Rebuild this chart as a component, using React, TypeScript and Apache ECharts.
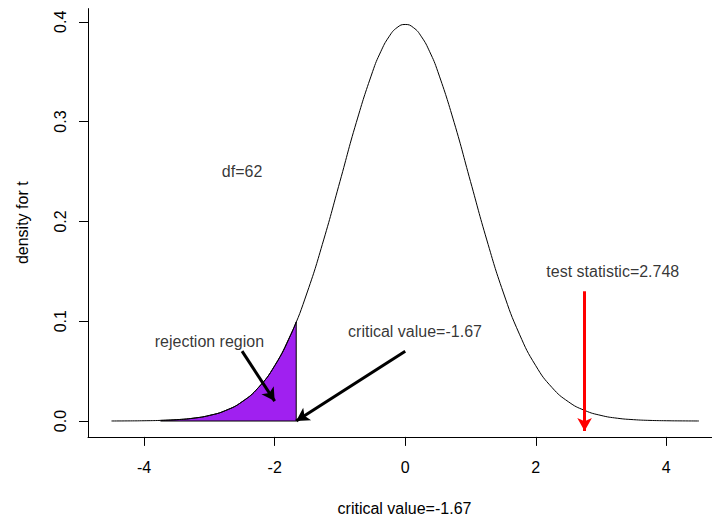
import React, { useEffect, useRef } from "react";
import * as echarts from "echarts";

// t density (df = 62)
const curveX = [-4.5, -4.25, -4, -3.75, -3.5, -3.25, -3, -2.75, -2.5, -2.25, -2, -1.75, -1.5, -1.25, -1, -0.75, -0.5, -0.375, -0.25, -0.125, 0,
  0.125, 0.25, 0.375, 0.5, 0.75, 1, 1.25, 1.5, 1.75, 2, 2.25, 2.5, 2.75, 3, 3.25, 3.5, 3.75, 4, 4.25, 4.5];
const curveY = [0.00005, 0.00013, 0.00029, 0.00063, 0.00136, 0.0028, 0.0056, 0.0106, 0.0193, 0.0335, 0.0554, 0.087, 0.1293, 0.1814, 0.24, 0.299, 0.35, 0.37, 0.3849, 0.3942, 0.3973,
  0.3942, 0.3849, 0.37, 0.35, 0.299, 0.24, 0.1814, 0.1293, 0.087, 0.0554, 0.0335, 0.0193, 0.0106, 0.0056, 0.0028, 0.00136, 0.00063, 0.00029, 0.00013, 0.00005];

// rejection region (left tail up to the critical value)
const regionX = [-3.75, -3.5, -3.25, -3, -2.75, -2.5, -2.25, -2, -1.75, -1.67];
const regionY = [0.00063, 0.00136, 0.0028, 0.0056, 0.0106, 0.0193, 0.0335, 0.0554, 0.087, 0.0994];
const criticalValue = -1.67;
const testStatistic = 2.748;

// annotations
const noteText = ["df=62", "rejection region", "critical value=-1.67", "test statistic=2.748"];
const noteX = [-2.5, -3, 0.15, 3.18];
const noteY = [0.25, 0.08, 0.09, 0.15];

// arrows: [x0, y0, x1, y1]
const blackArrows = [
  [-2.5, 0.07, -2, 0.02],
  [0, 0.07, criticalValue, 0],
];
const redArrow = [testStatistic, 0.13, testStatistic, -0.01];

const xTicks = [-4, -2, 0, 2, 4];
const yTicks = [0, 0.1, 0.2, 0.3, 0.4];

const FONT = "Liberation Sans";

export default function App() {
  const ref = useRef<HTMLDivElement>(null);
  useEffect(() => {
    if (!ref.current) return;
    const chart = echarts.init(ref.current, undefined, { renderer: "svg" });
    const arrowLine = (a: number[], color: string) => [
      { coord: [a[0], a[1]], lineStyle: { color, width: 3, type: "solid" } },
      { coord: [a[2], a[3]] },
    ];
    chart.setOption({
      animation: false,
      backgroundColor: "#fff",
      grid: { left: 88, top: 8.6, right: 0, height: 428.3, outerBoundsMode: "none", containLabel: false },
      xAxis: {
        type: "value",
        min: -4.86,
        max: 4.7,
        splitLine: { show: false },
        axisLine: { show: true, onZero: false, lineStyle: { color: "#000", width: 1 } },
        axisTick: { show: true, customValues: xTicks, length: 9, lineStyle: { color: "#000" } },
        axisLabel: { customValues: xTicks, fontSize: 16, color: "#000", fontFamily: FONT, margin: 23 },
        name: "critical value=-1.67",
        nameLocation: "middle",
        nameGap: 64,
        nameTextStyle: { fontSize: 16, color: "#000", fontFamily: FONT, padding: [0, 0, 0, 9] },
      },
      yAxis: {
        type: "value",
        min: -0.0159,
        max: 0.4132,
        splitLine: { show: false },
        axisLine: { show: true, onZero: false, lineStyle: { color: "#000", width: 1 } },
        axisTick: { show: true, customValues: yTicks, length: 9, lineStyle: { color: "#000" } },
        axisLabel: {
          customValues: yTicks,
          rotate: 90,
          fontSize: 16,
          color: "#000",
          fontFamily: FONT,
          margin: 20,
          formatter: (v: number) => v.toFixed(1),
        },
        name: "density for t",
        nameLocation: "middle",
        nameGap: 58,
        nameTextStyle: { fontSize: 16, color: "#000", fontFamily: FONT },
      },
      series: [
        {
          type: "line",
          data: regionX.map((x, i) => [x, regionY[i]]),
          smooth: true,
          showSymbol: false,
          lineStyle: { color: "#000", width: 1 },
          areaStyle: { color: "#A020F0", opacity: 1 },
          silent: true,
          z: 2,
        },
        {
          type: "line",
          data: [
            [criticalValue, regionY[regionY.length - 1]],
            [criticalValue, 0],
            [regionX[0], 0],
          ],
          showSymbol: false,
          lineStyle: { color: "#000", width: 1 },
          silent: true,
          z: 3,
        },
        {
          type: "line",
          data: curveX.map((x, i) => [x, curveY[i]]),
          smooth: true,
          showSymbol: false,
          lineStyle: { color: "#000", width: 1 },
          silent: true,
          z: 3,
          markLine: {
            silent: true,
            symbol: ["none", "arrow"],
            symbolSize: [11, 13],
            label: { show: false },
            emphasis: { disabled: true },
            data: [
              ...blackArrows.map((a) => arrowLine(a, "#000")),
              arrowLine(redArrow, "#FF0000"),
            ],
          },
        },
        {
          type: "scatter",
          data: noteText.map((t, i) => ({ name: t, value: [noteX[i], noteY[i]] })),
          symbolSize: 1,
          itemStyle: { color: "transparent" },
          silent: true,
          label: {
            show: true,
            position: "inside",
            formatter: (p: any) => p.name,
            fontSize: 16,
            color: "#000",
            fontFamily: FONT,
          },
          z: 5,
        },
      ],
    });
    return () => chart.dispose();
  }, []);
  return (
    <div
      ref={ref}
      style={{ position: "fixed", left: 0, top: 0, width: 712, height: 519 }}
    />
  );
}
